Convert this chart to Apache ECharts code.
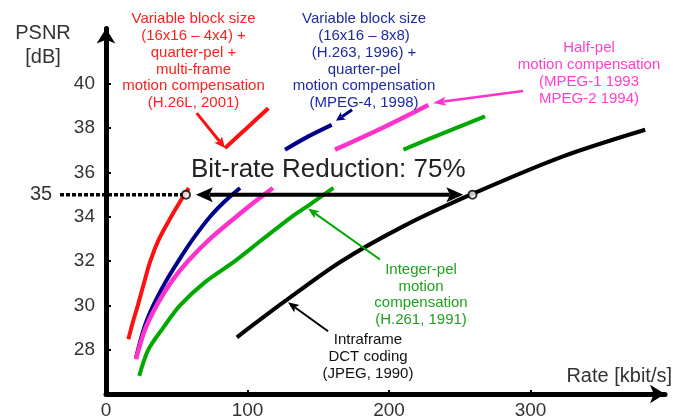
<!DOCTYPE html>
<html><head><meta charset="utf-8">
<script src="https://cdn.jsdelivr.net/npm/echarts@6/dist/echarts.min.js"></script>
<style>html,body{margin:0;padding:0;background:#fff}#c{width:673px;height:419px}</style>
</head><body><div id="c"></div>
<script>
const FONT = '"Liberation Sans", Arial, Helvetica, sans-serif';

// tick labels
const xTickLabels = [0, 100, 200, 300];
const xTickMarks = [100, 200, 300];
const yTickLabels = [28, 30, 32, 34, 36, 38, 40];

// Rate [kbit/s] and PSNR [dB] per codec generation (null = hidden behind the caption)
const h26lRate = [15.8, 19.0, 22.5, 26.8, 31.3, 37.5, 46.0, 52.5, 58.5, null, 84.1, 99.4, 114.7];
const h26lPsnr = [28.47, 29.25, 30.0, 31.0, 32.0, 33.0, 34.0, 34.7, 35.3, null, 37.1, 38.0, 38.9];

const mpeg4Rate = [21.2, 27.0, 33.4, 42.0, 51.1, 61.5, 73.5, 84.0, 94.7, null, 126.5, 143.0, 159.5];
const mpeg4Psnr = [27.64, 29.0, 30.0, 31.05, 32.0, 33.0, 34.0, 34.7, 35.3, null, 37.03, 37.63, 38.15];

const mpeg12Rate = [21.2, 27.5, 35.8, 46.0, 58.0, 73.5, 92.0, 106.0, 118.0, null, 161.8, 194.8, 227.8];
const mpeg12Psnr = [27.57, 28.9, 30.0, 31.05, 32.0, 33.0, 34.0, 34.72, 35.3, null, 37.03, 38.0, 39.05];

const h261Rate = [23.5, 29.9, 40.5, 52.3, 70.0, 91.1, 110.0, 131.2, 144.0, 160.7, null, 210.2, 238.4, 267.8];
const h261Psnr = [26.82, 28.0, 29.0, 30.0, 31.05, 32.0, 32.95, 34.0, 34.55, 35.3, null, 37.03, 37.78, 38.53];

const jpegRate = [92.5, 125.0, 165.3, 211.0, 258.5, 323.0, 381.0];
const jpegPsnr = [28.56, 30.12, 31.95, 33.6, 35.02, 36.73, 37.93];

// equal-quality operating points (35 dB)
const reductionRate = [56.5, 259.0];
const reductionPsnr = [35, 35];

const RED = '#ff1010', BLUE = '#00008b', PINK = '#ff33cc', GREEN = '#00a800', BLACK = '#000000';

function zip(r, p) { return r.map((v, i) => v == null ? [null, null] : [v, p[i]]); }

function curve(name, r, p, color, w) {
  return {
    name, type: 'line', data: zip(r, p), symbol: 'none', showSymbol: false,
    smooth: 0.3, connectNulls: false, silent: true,
    lineStyle: { color, width: w }, z: 3
  };
}

const option = {
  animation: false,
  backgroundColor: '#ffffff',
  grid: { left: 106, right: 8, top: 28.5, bottom: 25, containLabel: false, outerBoundsMode: 'none' },
  xAxis: {
    type: 'value', min: 0, max: 395,
    axisLine: { show: true, lineStyle: { color: '#000', width: 5 }, symbol: ['none', 'arrow'], symbolSize: [14, 15] },
    axisTick: { show: true, inside: true, length: 4, lineStyle: { color: '#000', width: 2 }, customValues: xTickMarks },
    axisLabel: { customValues: xTickLabels, fontSize: 19, color: '#333', fontFamily: FONT, margin: 7 },
    splitLine: { show: false }
  },
  yAxis: {
    type: 'value', min: 26, max: 42.5,
    axisLine: { show: true, lineStyle: { color: '#000', width: 5 }, symbol: ['none', 'arrow'], symbolSize: [14, 15] },
    axisTick: { show: true, inside: true, length: 5, lineStyle: { color: '#000', width: 2 }, customValues: yTickLabels },
    axisLabel: { customValues: yTickLabels, fontSize: 19, color: '#333', fontFamily: FONT, margin: 11 },
    splitLine: { show: false }
  },
  series: [
    curve('H.26L', h26lRate, h26lPsnr, RED, 4),
    curve('MPEG-4', mpeg4Rate, mpeg4Psnr, BLUE, 4),
    curve('MPEG-1/2', mpeg12Rate, mpeg12Psnr, PINK, 4.5),
    curve('H.261', h261Rate, h261Psnr, GREEN, 4),
    curve('JPEG', jpegRate, jpegPsnr, BLACK, 4),
    {
      type: 'scatter', data: zip(reductionRate, reductionPsnr), symbol: 'circle', symbolSize: 8,
      itemStyle: { color: '#fff', borderColor: '#000', borderWidth: 2 }, z: 20, silent: true
    }
  ]
};

const chart = echarts.init(document.getElementById('c'), null, { renderer: 'canvas' });
chart.setOption(option);

const px = p => chart.convertToPixel({ gridIndex: 0 }, p);

function arrowEls(a, b, color, w, hl, hw, both) {
  const dx = b[0] - a[0], dy = b[1] - a[1], L = Math.hypot(dx, dy);
  const ux = dx / L, uy = dy / L;
  const els = [];
  const s = both ? [a[0] + ux * hl * 0.8, a[1] + uy * hl * 0.8] : a;
  const e = [b[0] - ux * hl * 0.8, b[1] - uy * hl * 0.8];
  els.push({ type: 'line', z: 10, silent: true, shape: { x1: s[0], y1: s[1], x2: e[0], y2: e[1] }, style: { stroke: color, lineWidth: w } });
  const head = (tip, vx, vy) => ({
    type: 'polygon', z: 10, silent: true,
    shape: { points: [
      tip,
      [tip[0] - vx * hl - vy * hw / 2, tip[1] - vy * hl + vx * hw / 2],
      [tip[0] - vx * hl * 0.78, tip[1] - vy * hl * 0.78],
      [tip[0] - vx * hl + vy * hw / 2, tip[1] - vy * hl - vx * hw / 2]
    ] },
    style: { fill: color }
  });
  els.push(head(b, ux, uy));
  if (both) els.push(head(a, -ux, -uy));
  return els;
}

// annotation arrows in data units [rate, psnr]
const annoArrows = [
  { from: [64.1, 38.68], to: [84.1, 37.1], color: RED, w: 3, hl: 11, hw: 10 },
  { from: [173.9, 38.83], to: [162.5, 38.33], color: BLUE, w: 3, hl: 9, hw: 9 },
  { from: [294.7, 39.68], to: [231.1, 39.14], color: PINK, w: 2.5, hl: 13, hw: 9 },
  { from: [193.6, 32.07], to: [142.8, 34.37], color: GREEN, w: 2, hl: 11, hw: 9 },
  { from: [156.9, 28.83], to: [128.6, 30.14], color: BLACK, w: 2, hl: 11, hw: 9 }
];

const g = [];
annoArrows.forEach(a => g.push(...arrowEls(px(a.from), px(a.to), a.color, a.w, a.hl, a.hw, false)));
// bit-rate reduction double arrow
g.push(...arrowEls(px([63.5, 35]), px([252.5, 35]), BLACK, 4, 17, 15, true));
// dotted 35 dB guide
const d0 = px([-32.5, 35]), d1 = px([54.5, 35]);
g.push({ type: 'line', z: 9, silent: true, shape: { x1: d0[0], y1: d0[1], x2: d1[0], y2: d1[1] },
  style: { stroke: '#000', lineWidth: 3.5, lineDash: [4, 2] } });

function txt(text, x, y, color, size, align, vAlign, lh) {
  return { type: 'text', z: 12, silent: true,
    style: { text, x, y, fill: color, fontSize: size, fontFamily: FONT, textAlign: align, textVerticalAlign: vAlign, lineHeight: lh || size * 1.2 } };
}
const y35 = px([0, 35])[1];
g.push(txt('35', 41, y35, '#333', 20, 'center', 'middle'));
g.push(txt('PSNR\n[dB]', 43, 21, '#333', 20, 'center', 'top', 24));
g.push(txt('Rate [kbit/s]', 672, 376, '#333', 20, 'right', 'middle'));
g.push(txt('Bit-rate Reduction: 75%', 191, 170, '#222', 26, 'left', 'middle'));
g.push(txt('Variable block size\n(16x16 \u2013 4x4) +\nquarter-pel +\nmulti-frame\nmotion compensation\n(H.26L, 2001)', 193.5, 10.6, '#ff2020', 15, 'center', 'top', 16.8));
g.push(txt('Variable block size\n(16x16 \u2013 8x8)\n(H.263, 1996) +\nquarter-pel\nmotion compensation\n(MPEG-4, 1998)', 364, 10.6, '#1f2a9e', 15, 'center', 'top', 16.8));
g.push(txt('Half-pel\nmotion compensation\n(MPEG-1 1993\nMPEG-2 1994)', 589, 39.5, '#ff40cc', 15, 'center', 'top', 17));
g.push(txt('Integer-pel\nmotion\ncompensation\n(H.261, 1991)', 421, 262, '#20a020', 15, 'center', 'top', 16.4));
g.push(txt('Intraframe\nDCT coding\n(JPEG, 1990)', 368, 331.5, '#111', 15, 'center', 'top', 17));

chart.setOption({ graphic: { elements: g } });
</script>
</body></html>
